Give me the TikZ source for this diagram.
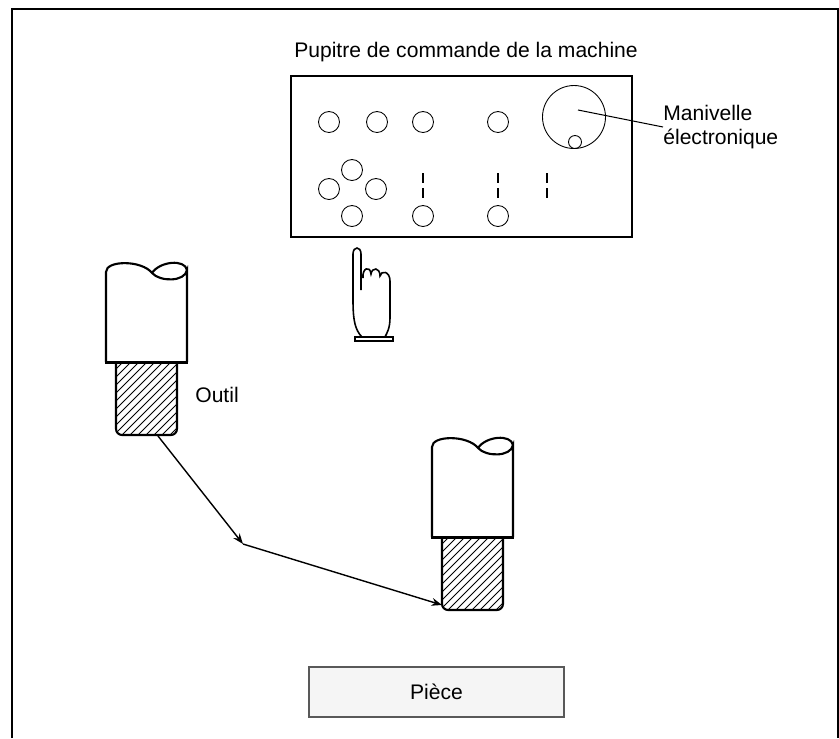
\documentclass[tikz,border=0pt]{standalone}
\usepackage{fontspec}
\setmainfont{Liberation Sans}
\usetikzlibrary{positioning, arrows.meta}

\begin{document}
\begin{tikzpicture}[
    x=0.02cm, y=-0.02cm,
    texte/.style={font=\fontsize{12}{14}\selectfont, inner sep=0pt},
    bouton/.style={circle, draw, line width=0.5pt, minimum size=0.42cm, inner sep=0pt},
    interrupteur/.style={line width=1pt},
    trajet/.style={-{Stealth[length=6pt, width=4.5pt]}, line width=0.8pt},
    piece/.style={rectangle, draw=black!65, fill=black!4, line width=0.7pt, minimum width=5.1cm, minimum height=1cm, font=\fontsize{12}{14}\selectfont},
    outil/.pic={
        % shank with broken top
        \draw[line width=1.2pt, fill=white] (0,92) -- (0,2) .. controls (0,-10) and (36,-10) .. (46,3)
            .. controls (54,12) and (79,12) .. (81,0) -- (81,92);
        \draw[line width=1.2pt] (46,3) .. controls (54,-9) and (79,-11) .. (81,0);
        % hatched cutter
        \begin{scope}
            \clip (10,92) [rounded corners=3.5pt] -- (10,165) -- (71,165) [sharp corners] -- (71,92) -- cycle;
            \foreach \k in {-64,-56,...,72}
                \draw[line width=0.5pt] (\k,165) -- ++(73,-73);
        \end{scope}
        \draw[line width=1.2pt] (10,92) [rounded corners=3.5pt] -- (10,165) -- (71,165) [sharp corners] -- (71,92);
        \draw[line width=1.7pt] (-1,92) -- (82,92);
        \coordinate (-pointe) at (52,166);
        \coordinate (-coin) at (10,160);
    }
]
    \useasboundingbox (0,0) rectangle (839,738);

    % Frame
    \draw[line width=1pt] (12,738) -- (12,9) -- (838,9) -- (838,738);

    % Machine panel
    \node[texte, anchor=base] (titre) at (466,57) {Pupitre de commande de la machine};
    \draw[line width=0.6pt] (291,76) rectangle (632,237);
    \node[bouton] (b1) at (329,122) {};
    \node[bouton] (b2) at (377,122) {};
    \node[bouton] (b3) at (423,122) {};
    \node[bouton] (b4) at (498,122) {};
    \node[bouton] (haut) at (352,170) {};
    \node[bouton] (gauche) at (329,189) {};
    \node[bouton] (droite) at (376,189) {};
    \node[bouton] (bas) at (352,216) {};
    \node[bouton] (b5) at (423,216) {};
    \node[bouton] (b6) at (498,216) {};
    \foreach \x in {423,498,547}
        \draw[interrupteur] (\x,173) -- (\x,183) (\x,188) -- (\x,198);

    % Handwheel
    \node[circle, draw, line width=0.5pt, minimum size=1.26cm, inner sep=0pt] (molette) at (574,117) {};
    \node[bouton, minimum size=0.26cm] (poignee) at (575,142) {};
    \coordinate (axe) at (578,110);
    \node[texte, anchor=west, align=left] (manivelle) at (663,127) {Manivelle\\électronique};
    \draw[line width=0.6pt] (axe) -- (manivelle.west);

    % Hand
    \draw[line width=0.9pt, fill=white] (362,337) .. controls (355,330) and (353,320) .. (353,300)
        -- (353,254) .. controls (353,246) and (361,246) .. (361,254) -- (361,290);
    \draw[line width=0.9pt] (363,278) .. controls (362,268) and (370,265) .. (371,274)
        .. controls (372,267) and (380,267) .. (380,276)
        .. controls (381,270) and (390,271) .. (390,281) -- (390,318)
        .. controls (390,328) and (387,333) .. (385,337);
    \draw[line width=0.7pt] (355,337) rectangle (393,341);

    % Tools
    \pic (t1) at (106,270) {outil};
    \pic (t2) at (432,445) {outil};
    \node[texte, anchor=west] (etiquette) at (195,395) {Outil};

    % Path of the tool
    \coordinate (coude) at (243,544);
    \draw[trajet] (t1-pointe) -- (coude);
    \draw[trajet] (coude) -- (t2-coin);

    % Workpiece
    \draw[black!75, line width=1pt] (309.5,717.5) -- (564.5,717.5);
    \node[piece] (piece) at (436.5,692) {Pièce};
\end{tikzpicture}
\end{document}
